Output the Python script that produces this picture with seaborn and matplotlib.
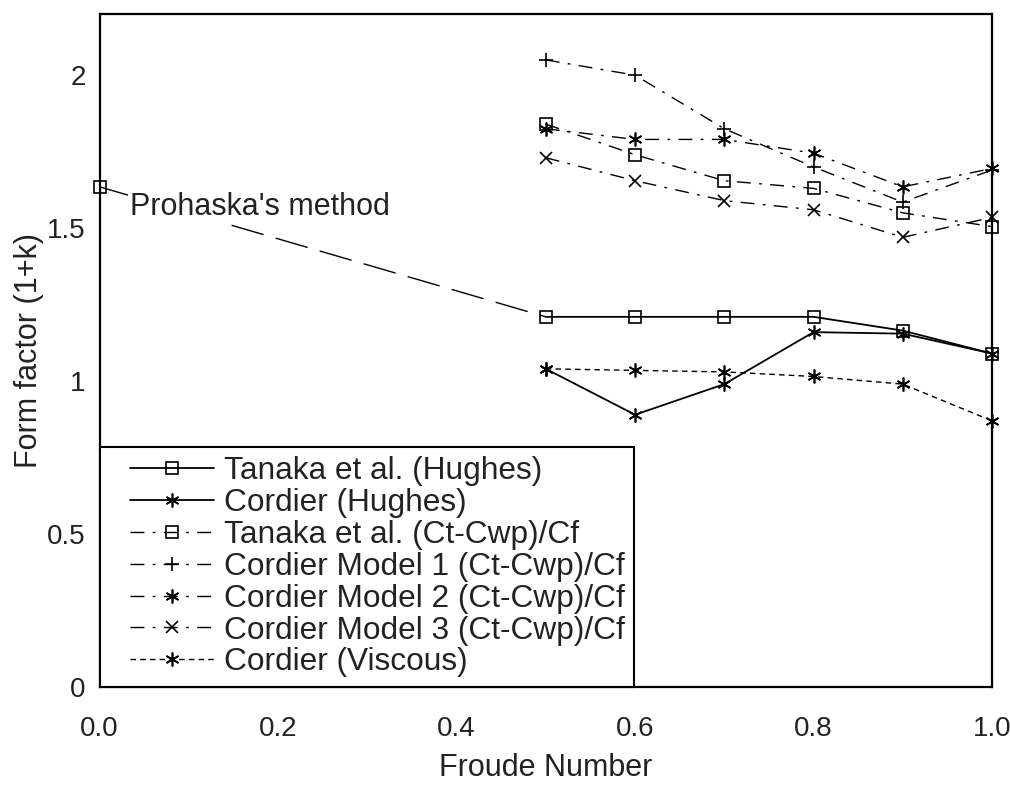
import numpy as np
import pandas as pd
import matplotlib
matplotlib.use("Agg")
import matplotlib.pyplot as plt
from matplotlib.lines import Line2D
from matplotlib.legend_handler import HandlerLine2D
import seaborn as sns

# ---- data ----
froude = [0.5, 0.6, 0.7, 0.8, 0.9, 1.0]
tanaka_hughes = [1.21, 1.21, 1.21, 1.21, 1.165, 1.09]
cordier_hughes = [1.04, 0.89, 0.99, 1.16, 1.155, 1.09]
tanaka_ctcwp = [1.84, 1.74, 1.655, 1.63, 1.55, 1.505]
cordier_m1 = [2.05, 2.00, 1.825, 1.70, 1.585, 1.69]
cordier_m2 = [1.825, 1.79, 1.79, 1.745, 1.635, 1.695]
cordier_m3 = [1.73, 1.655, 1.59, 1.56, 1.47, 1.535]
cordier_visc = [1.04, 1.035, 1.03, 1.015, 0.99, 0.87]
prohaska_x = [0.0, 0.5]
prohaska_y = [1.635, 1.21]

labels = ["Tanaka et al. (Hughes)", "Cordier (Hughes)", "Tanaka et al. (Ct-Cwp)/Cf",
          "Cordier Model 1 (Ct-Cwp)/Cf", "Cordier Model 2 (Ct-Cwp)/Cf",
          "Cordier Model 3 (Ct-Cwp)/Cf", "Cordier (Viscous)"]
x_ticks = [0.0, 0.2, 0.4, 0.6, 0.8, 1.0]
x_ticklabels = ["0.0", "0.2", "0.4", "0.6", "0.8", "1.0"]
y_ticks = [0, 0.5, 1, 1.5, 2]
y_ticklabels = ["0", "0.5", "1", "1.5", "2"]

sns.set_style("white")
plt.rcParams['font.family'] = ['Liberation Sans', 'DejaVu Sans']

fig = plt.figure(figsize=(10.10, 7.87), dpi=100)
ax = fig.add_axes([0.0986, 0.1271, 0.8836, 0.8551])

asterisk = (6, 2, 0)
dashdot = (0, (10, 6, 2, 6))
styles = [
    dict(marker='s', linestyle='-', lw=1.3, ms=8),
    dict(marker=asterisk, linestyle='-', lw=1.3, ms=10),
    dict(marker='s', linestyle=dashdot, lw=1.0, ms=8),
    dict(marker='+', linestyle=dashdot, lw=1.0, ms=10),
    dict(marker=asterisk, linestyle=dashdot, lw=1.0, ms=10),
    dict(marker='x', linestyle=dashdot, lw=1.0, ms=8),
    dict(marker=asterisk, linestyle=(0, (4, 3)), lw=1.0, ms=10),
]
series = [tanaka_hughes, cordier_hughes, tanaka_ctcwp, cordier_m1,
          cordier_m2, cordier_m3, cordier_visc]

# Prohaska's method segment
dfp = pd.DataFrame({"x": prohaska_x, "y": prohaska_y})
sns.lineplot(data=dfp, x="x", y="y", ax=ax, color='k', lw=1.0,
             linestyle=(0, (24, 9)), legend=False)
ax.plot(prohaska_x[:1], prohaska_y[:1], marker='s', ms=8, mfc='none',
        mec='k', mew=1.2, linestyle='none', clip_on=False)

for vals, lab, st in zip(series, labels, styles):
    df = pd.DataFrame({"x": froude, "y": vals})
    sns.lineplot(data=df, x="x", y="y", ax=ax, color='k', label=lab,
                 marker=st['marker'], linestyle=st['linestyle'], lw=st['lw'],
                 markersize=st['ms'], markerfacecolor='none',
                 markeredgecolor='k', markeredgewidth=1.2, clip_on=False)

ax.text(0.034, 1.544, "Prohaska's method", fontsize=22, va='baseline', ha='left',
        color='#222222', zorder=5,
        bbox=dict(facecolor='white', edgecolor='none', pad=1))

ax.set_xlim(0, 1.0)
ax.set_ylim(0, 2.2)
ax.set_xticks(x_ticks)
ax.set_xticklabels(x_ticklabels)
ax.set_yticks(y_ticks)
ax.set_yticklabels(y_ticklabels)
ax.tick_params(axis='both', direction='inout', length=12, width=1.3,
               labelsize=20, color='k', labelcolor='#222222')
ax.tick_params(axis='x', pad=15)
ax.tick_params(axis='y', pad=4)
for s in ax.spines.values():
    s.set_visible(True)
    s.set_color('k')
    s.set_linewidth(1.6)

ax.set_xlabel("Froude Number", fontsize=22, labelpad=8, color='#222222')
ax.set_ylabel("Form factor (1+k)", fontsize=22, labelpad=2, color='#222222')

fs_leg = 22.8
leg = ax.legend(loc='lower left', bbox_to_anchor=(0, 0), borderaxespad=0,
                fontsize=fs_leg, frameon=True, fancybox=False, framealpha=1,
                edgecolor='k', numpoints=1, handlelength=3.3,
                handletextpad=0.33, labelspacing=0.06, borderpad=0.3,
                handler_map={Line2D: HandlerLine2D(xpad=0.65)})
leg.get_frame().set_linewidth(1.5)
for t in leg.get_texts():
    t.set_color('#222222')

fig.savefig("out.png", dpi=100)
